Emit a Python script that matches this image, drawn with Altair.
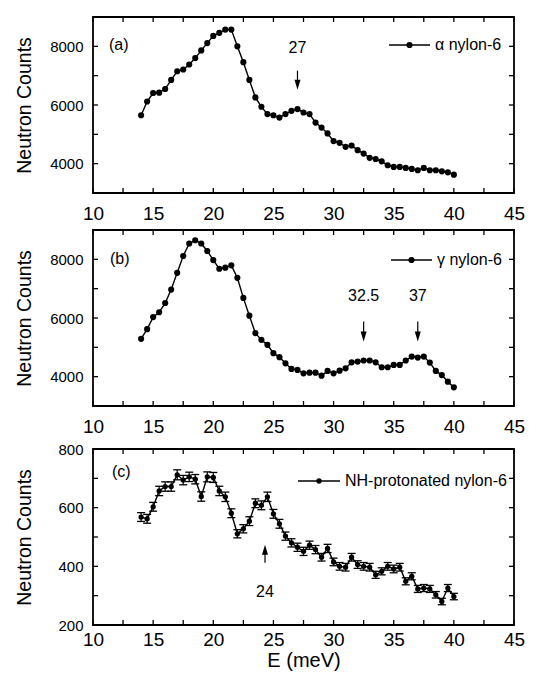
import altair as alt
import pandas as pd

# ---------------- data ----------------
ENERGY = [14.0, 14.5, 15.0, 15.5, 16.0, 16.5, 17.0, 17.5, 18.0, 18.5,
          19.0, 19.5, 20.0, 20.5, 21.0, 21.5, 22.0, 22.5, 23.0, 23.5,
          24.0, 24.5, 25.0, 25.5, 26.0, 26.5, 27.0, 27.5, 28.0, 28.5,
          29.0, 29.5, 30.0, 30.5, 31.0, 31.5, 32.0, 32.5, 33.0, 33.5,
          34.0, 34.5, 35.0, 35.5, 36.0, 36.5, 37.0, 37.5, 38.0, 38.5,
          39.0, 39.5, 40.0]

ALPHA_COUNTS = [5650, 6120, 6410, 6420, 6545, 6855, 7150, 7210, 7380, 7600,
                7860, 8110, 8355, 8460, 8570, 8570, 8000, 7460, 6855, 6260,
                5940, 5690, 5650, 5570, 5690, 5800, 5860, 5745, 5690, 5400,
                5230, 5030, 4770, 4710, 4575, 4620, 4460, 4345, 4200, 4160,
                4080, 3945, 3890, 3890, 3855, 3820, 3775, 3855, 3775, 3775,
                3740, 3705, 3625]

GAMMA_COUNTS = [5290, 5620, 6030, 6195, 6510, 6970, 7540, 8115, 8540, 8650,
                8540, 8285, 7975, 7680, 7715, 7795, 7370, 6685, 6080, 5485,
                5255, 5085, 4800, 4665, 4455, 4265, 4230, 4115, 4135, 4135,
                4035, 4195, 4115, 4205, 4285, 4490, 4515, 4550, 4550, 4490,
                4320, 4320, 4400, 4400, 4550, 4685, 4650, 4685, 4480, 4195,
                4055, 3830, 3635]

NH_COUNTS = [568, 562, 603, 657, 672, 672, 712, 694, 705, 697,
             638, 705, 703, 657, 637, 581, 511, 528, 554, 615,
             608, 637, 579, 545, 503, 480, 465, 451, 472, 457,
             431, 461, 415, 400, 397, 431, 406, 400, 397, 371,
             383, 400, 391, 397, 349, 366, 323, 326, 323, 303,
             280, 326, 297]

NH_ERRORS = [15, 15, 15, 16, 16, 16, 17, 16, 16, 16,
             16, 17, 17, 16, 16, 15, 14, 14, 15, 15,
             15, 16, 15, 15, 14, 14, 14, 14, 14, 14,
             13, 14, 13, 13, 13, 13, 13, 13, 13, 12,
             12, 13, 13, 13, 12, 12, 12, 12, 12, 11,
             11, 12, 11]

X_TICKS = [10, 12.5, 15, 17.5, 20, 22.5, 25, 27.5, 30, 32.5, 35, 37.5, 40, 42.5, 45]
X_LABELS = [10, 15, 20, 25, 30, 35, 40, 45]
Y_TICKS_AB = [3000, 4000, 5000, 6000, 7000, 8000, 9000]
Y_LABELS_AB = [4000, 6000, 8000]
Y_TICKS_C = [200, 300, 400, 500, 600, 700, 800]
Y_LABELS_C = [200, 400, 600, 800]

# annotations: arrow position, arrow shaft start/end, arrow tip, text position
ANN_A = {"E": [27.0], "s0": [7170], "s1": [6700], "tip": [6517], "ty": [7930], "label": ["27"]}
ANN_B = {"E": [32.5, 37.0], "s0": [5880, 5880], "s1": [5420, 5420], "tip": [5197, 5197],
         "ty": [6735, 6735], "label": ["32.5", "37"]}
ANN_C = {"E": [24.3], "s0": [412], "s1": [455], "tip": [474], "ty": [313], "label": ["24"]}

FONT = "Liberation Sans"
W, H = 421, 176
TICK = 5
LW = 1.4


def panel(counts, ydom, yticks, ylabels, legend_label, leg, tag, tag_pos,
          ann, arrow_down, errors=None, xtitle=False, dot=38, xpad=11):
    xs = alt.Scale(domain=[10, 45], nice=False, zero=False)
    ys = alt.Scale(domain=ydom, nice=False, zero=False)
    xaxis_kw = dict(values=X_LABELS, ticks=False, domain=False, grid=False,
                    labelFlush=False, labelFontSize=19, labelPadding=xpad,
                    labelFont=FONT, labelColor="black")
    if xtitle:
        xaxis = alt.Axis(title="E (meV)", titleFontSize=20, titleFont=FONT,
                         titleFontWeight="normal", titleColor="black",
                         titlePadding=1, **xaxis_kw)
    else:
        xaxis = alt.Axis(title=None, **xaxis_kw)
    yaxis = alt.Axis(values=ylabels, format="d", ticks=False, domain=False, grid=False,
                     labelFontSize=15, labelPadding=10, labelFont=FONT,
                     labelColor="black", minExtent=44, maxExtent=44,
                     title="Neutron Counts", titleFontSize=19.5, titleFont=FONT,
                     titleFontWeight="normal", titleColor="black", titlePadding=15)

    def X(f="E"):
        return alt.X(f"{f}:Q", scale=xs, axis=xaxis)

    def Y(f):
        return alt.Y(f"{f}:Q", scale=ys, axis=yaxis)

    df = pd.DataFrame({"E": ENERGY, "N": counts})
    layers = []

    # frame ticks (inward, on all four sides)
    xt = pd.DataFrame({"E": X_TICKS})
    yt = pd.DataFrame({"N": yticks})
    layers.append(alt.Chart(xt).mark_rule(color="black", strokeWidth=1.3).encode(
        x=X(), y=alt.value(H), y2=alt.value(H - TICK)))
    layers.append(alt.Chart(xt).mark_rule(color="black", strokeWidth=1.3).encode(
        x=X(), y=alt.value(0), y2=alt.value(TICK)))
    layers.append(alt.Chart(yt).mark_rule(color="black", strokeWidth=1.3).encode(
        y=Y("N"), x=alt.value(0), x2=alt.value(TICK)))
    layers.append(alt.Chart(yt).mark_rule(color="black", strokeWidth=1.3).encode(
        y=Y("N"), x=alt.value(W), x2=alt.value(W - TICK)))

    if errors is not None:
        edf = pd.DataFrame({"E": ENERGY, "N": counts, "err": errors})
        edf["lo"] = edf["N"] - edf["err"]
        edf["hi"] = edf["N"] + edf["err"]
        layers.append(alt.Chart(edf).mark_rule(color="black", strokeWidth=1.2).encode(
            x=X(), y=Y("lo"), y2="hi:Q"))
        for f in ("lo", "hi"):
            layers.append(alt.Chart(edf).mark_tick(
                color="black", orient="horizontal", size=8, thickness=1.3, opacity=1
            ).encode(x=X(), y=Y(f)))

    layers.append(alt.Chart(df).mark_line(color="black", strokeWidth=LW).encode(
        x=X(), y=Y("N")))
    layers.append(alt.Chart(df).mark_circle(color="black", size=dot, opacity=1).encode(
        x=X(), y=Y("N")))

    # arrows and their labels
    adf = pd.DataFrame(ann)
    head = "M-0.3,-1L0.3,-1L0,0Z" if arrow_down else "M-0.3,1L0.3,1L0,0Z"
    layers.append(alt.Chart(adf).mark_rule(color="black", strokeWidth=1.2).encode(
        x=X(), y=Y("s0"), y2="s1:Q"))
    layers.append(alt.Chart(adf).mark_point(
        shape=head, size=400, filled=True, color="black", opacity=1, strokeWidth=0
    ).encode(x=X(), y=Y("tip")))
    layers.append(alt.Chart(adf).mark_text(
        font=FONT, fontSize=16, color="black", baseline="middle", align="center"
    ).encode(x=X(), y=Y("ty"), text="label:N"))

    # legend (line + dot + label) inside top-right
    ldf = pd.DataFrame({"label": [legend_label]})
    lx0, lx1, ly = leg
    layers.append(alt.Chart(ldf).mark_rule(color="black", strokeWidth=LW).encode(
        x=alt.value(lx0), x2=alt.value(lx1), y=alt.value(ly)))
    layers.append(alt.Chart(ldf).mark_circle(color="black", size=dot, opacity=1).encode(
        x=alt.value((lx0 + lx1) / 2), y=alt.value(ly)))
    layers.append(alt.Chart(ldf).mark_text(
        font=FONT, fontSize=16, color="black", align="left", baseline="middle"
    ).encode(x=alt.value(lx1 + 5), y=alt.value(ly), text="label:N"))

    # panel tag
    tdf = pd.DataFrame({"tag": [tag]})
    layers.append(alt.Chart(tdf).mark_text(
        font=FONT, fontSize=16, color="black", align="left", baseline="middle"
    ).encode(x=alt.value(tag_pos[0]), y=alt.value(tag_pos[1]), text="tag:N"))

    return alt.layer(*layers).properties(width=W, height=H)


pa = panel(ALPHA_COUNTS, [3000, 9000], Y_TICKS_AB, Y_LABELS_AB, "α nylon-6",
           (296, 337, 28), "(a)", (16, 28), ANN_A, True)
pb = panel(GAMMA_COUNTS, [3000, 9000], Y_TICKS_AB, Y_LABELS_AB, "γ nylon-6",
           (298, 339, 30), "(b)", (17, 29), ANN_B, True)
pc = panel(NH_COUNTS, [200, 800], Y_TICKS_C, Y_LABELS_C, "NH-protonated nylon-6",
           (205, 247, 32), "(c)", (19, 23), ANN_C, False, errors=NH_ERRORS,
           xtitle=True, dot=28, xpad=5)

chart = alt.vconcat(pa, pb, pc, spacing=4).properties(
    padding={"top": 7, "left": 5, "right": 5, "bottom": 2},
    background="white",
).configure_view(stroke="black", strokeWidth=1.8)

chart.save("out.html", embed_options={"renderer": "svg", "actions": False})
